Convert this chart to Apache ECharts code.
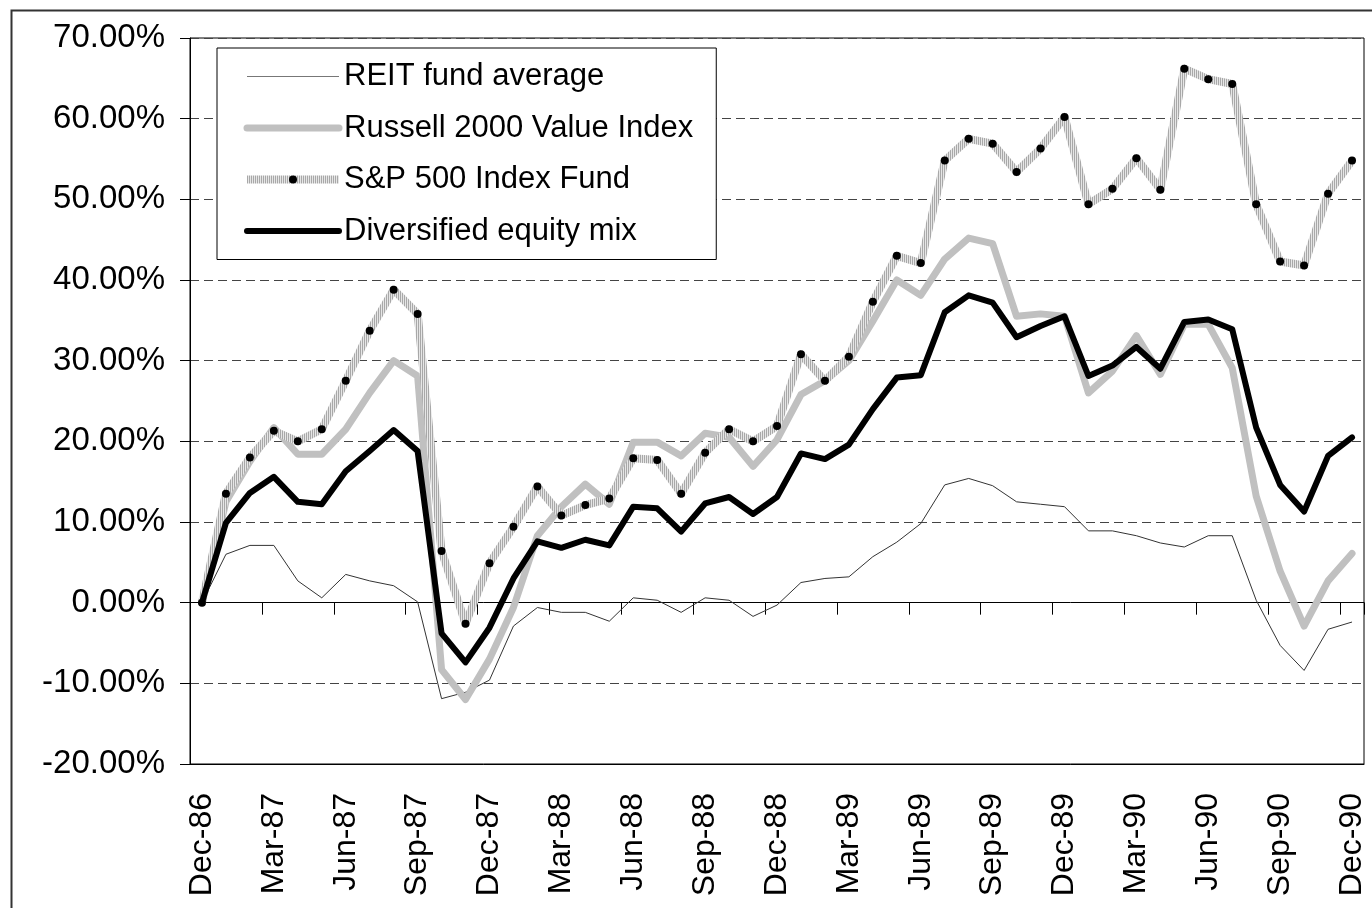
<!DOCTYPE html>
<html lang="en">
  <head>
    <meta charset="UTF-8" />
    <script src="https://cdn.jsdelivr.net/npm/echarts@6/dist/echarts.min.js"></script>
    <title>REIT vs equity indices</title>
    <style>
      html, body { margin: 0; padding: 0; background: #fff; }
      #container { width: 1372px; height: 908px; }
    </style>
  </head>
  <body>
    <div id="container"></div>

    <script>
      // monthly categories, Dec-86 .. Dec-90
      const months = [
        "Dec-86",
        "Jan-87", "Feb-87", "Mar-87", "Apr-87", "May-87", "Jun-87",
        "Jul-87", "Aug-87", "Sep-87", "Oct-87", "Nov-87", "Dec-87",
        "Jan-88", "Feb-88", "Mar-88", "Apr-88", "May-88", "Jun-88",
        "Jul-88", "Aug-88", "Sep-88", "Oct-88", "Nov-88", "Dec-88",
        "Jan-89", "Feb-89", "Mar-89", "Apr-89", "May-89", "Jun-89",
        "Jul-89", "Aug-89", "Sep-89", "Oct-89", "Nov-89", "Dec-89",
        "Jan-90", "Feb-90", "Mar-90", "Apr-90", "May-90", "Jun-90",
        "Jul-90", "Aug-90", "Sep-90", "Oct-90", "Nov-90", "Dec-90",
      ];

      // cumulative returns in %
      const reitAvg = [
        0, 6.0, 7.1, 7.1, 2.7, 0.6, 3.5, 2.7, 2.1, 0.1, -11.9, -11.1, -9.6,
        -2.9, -0.6, -1.2, -1.2, -2.3, 0.6, 0.3, -1.2, 0.6, 0.3, -1.7, -0.3,
        2.5, 3.0, 3.2, 5.7, 7.5, 9.8, 14.6, 15.4, 14.5, 12.5, 12.2, 11.9,
        8.9, 8.9, 8.3, 7.4, 6.9, 8.3, 8.3, 0.3, -5.3, -8.4, -3.3, -2.4,
      ];

      const russell2000 = [
        0, 12.5, 17.5, 21.7, 18.4, 18.4, 21.5, 26.0, 30.0, 28.1, -8.3, -12.0, -7.0,
        -0.6, 8.3, 11.9, 14.7, 12.2, 19.9, 19.9, 18.2, 21.0, 20.5, 16.9, 20.2,
        25.8, 27.5, 30.0, 34.9, 40.0, 38.1, 42.6, 45.2, 44.5, 35.5, 35.8, 35.5,
        26.0, 28.7, 33.1, 28.3, 34.5, 34.5, 29.1, 13.2, 3.9, -2.9, 2.7, 6.1,
      ];

      const sp500 = [
        0, 13.5, 18.0, 21.3, 20.0, 21.5, 27.5, 33.7, 38.8, 35.8, 6.4, -2.6, 4.9,
        9.4, 14.4, 10.8, 12.1, 12.9, 17.9, 17.7, 13.5, 18.6, 21.5, 20.0, 21.9,
        30.8, 27.5, 30.5, 37.3, 43.0, 42.1, 54.8, 57.5, 56.9, 53.4, 56.3, 60.2,
        49.4, 51.3, 55.1, 51.2, 66.2, 64.9, 64.3, 49.4, 42.3, 41.8, 50.7, 54.8,
      ];

      const diversified = [
        0, 9.9, 13.6, 15.6, 12.5, 12.2, 16.3, 18.8, 21.4, 18.8, -3.8, -7.4, -3.1,
        3.0, 7.6, 6.8, 7.8, 7.1, 11.9, 11.7, 8.8, 12.3, 13.1, 11.0, 13.1,
        18.5, 17.8, 19.6, 24.0, 27.9, 28.2, 36.0, 38.1, 37.2, 32.9, 34.3, 35.5,
        28.1, 29.4, 31.7, 29.0, 34.8, 35.1, 33.9, 21.7, 14.6, 11.3, 18.2, 20.5,
      ];

      const seriesNames = [
        "REIT fund average",
        "Russell 2000 Value Index",
        "S&P 500 Index Fund",
        "Diversified equity mix",
      ];

      const font = "'Liberation Sans', Arial, sans-serif";

      // hatched stroke for the S&P line (fine vertical stripes)
      const hatch = document.createElement("canvas");
      hatch.width = 2;
      hatch.height = 1;
      const hctx = hatch.getContext("2d");
      hctx.fillStyle = "#a8a8a8";
      hctx.fillRect(0, 0, 1, 1);
      hctx.fillStyle = "#e6e6e6";
      hctx.fillRect(1, 0, 1, 1);
      const hatchColor = { image: hatch, repeat: "repeat" };

      const reitLine = { color: "#333", width: 1 };
      const russellLine = { color: "#c0c0c0", width: 7, cap: "round", join: "round" };
      const spLine = { color: hatchColor, width: 8, join: "round" };
      const mixLine = { color: "#000", width: 6, cap: "round", join: "round" };

      const myChart = echarts.init(document.getElementById("container"), null, {
        renderer: "canvas",
      });

      const option = {
        animation: false,
        backgroundColor: "#fff",
        textStyle: { fontFamily: font },
        graphic: [
          {
            type: "rect",
            left: 9,
            top: 8,
            shape: { width: 1400, height: 1000 },
            style: { fill: null, stroke: "#333", lineWidth: 2 },
            silent: true,
            z: -10,
          },
        ],
        grid: {
          left: 190,
          right: 8,
          top: 38,
          bottom: 144,
          show: true,
          borderColor: "#000",
          borderWidth: 1,
          containLabel: false,
          outerBoundsMode: "none",
        },
        legend: {
          orient: "vertical",
          left: 217,
          top: 48,
          padding: [13, 23, 13, 26],
          borderColor: "#000",
          borderWidth: 1,
          backgroundColor: "#fff",
          itemWidth: 92,
          itemHeight: 10,
          itemGap: 20.5,
          textStyle: { fontSize: 31, lineHeight: 30, color: "#000", fontFamily: font },
          data: [
            { name: seriesNames[0], itemStyle: { opacity: 0 }, lineStyle: { color: "#777", width: 1 } },
            { name: seriesNames[1], itemStyle: { opacity: 0 }, lineStyle: russellLine },
            { name: seriesNames[2], itemStyle: { color: "#000", borderWidth: 0 }, lineStyle: spLine },
            { name: seriesNames[3], itemStyle: { opacity: 0 }, lineStyle: mixLine },
          ],
        },
        xAxis: [
          {
            type: "category",
            data: months,
            position: "bottom",
            boundaryGap: true,
            axisLine: { onZero: false, lineStyle: { color: "#000", width: 1 } },
            axisTick: { show: false },
            axisLabel: {
              interval: 2,
              rotate: 90,
              margin: 29,
              fontSize: 32,
              color: "#000",
              fontFamily: font,
            },
            splitLine: { show: false },
          },
          {
            type: "category",
            data: months,
            position: "bottom",
            boundaryGap: true,
            axisLine: { onZero: true, lineStyle: { color: "#000", width: 1 } },
            axisTick: {
              show: true,
              interval: 2,
              length: 12,
              lineStyle: { color: "#000", width: 1 },
            },
            axisLabel: { show: false },
            splitLine: { show: false },
          },
        ],
        yAxis: {
          type: "value",
          min: -20,
          max: 70,
          interval: 10,
          axisLine: { show: true, lineStyle: { color: "#000", width: 1 } },
          axisTick: { show: true, length: 10, lineStyle: { color: "#000" } },
          axisLabel: {
            margin: 25,
            fontSize: 33,
            color: "#000",
            fontFamily: font,
            formatter: (v) => v.toFixed(2) + "%",
          },
          splitLine: {
            show: true,
            lineStyle: { color: "#444", type: [9, 5], width: 1 },
          },
        },
        series: [
          {
            name: seriesNames[0],
            type: "line",
            data: reitAvg,
            symbol: "none",
            itemStyle: { color: "#333" },
            lineStyle: reitLine,
            z: 2,
          },
          {
            name: seriesNames[1],
            type: "line",
            data: russell2000,
            symbol: "none",
            itemStyle: { color: "#c0c0c0" },
            lineStyle: russellLine,
            z: 3,
          },
          {
            name: seriesNames[2],
            type: "line",
            data: sp500,
            symbol: "circle",
            symbolSize: 8,
            showAllSymbol: true,
            itemStyle: { color: "#000", borderWidth: 0 },
            lineStyle: spLine,
            z: 4,
          },
          {
            name: seriesNames[3],
            type: "line",
            data: diversified,
            symbol: "none",
            itemStyle: { color: "#000" },
            lineStyle: mixLine,
            z: 5,
          },
        ],
      };

      myChart.setOption(option);
    </script>
  </body>
</html>
